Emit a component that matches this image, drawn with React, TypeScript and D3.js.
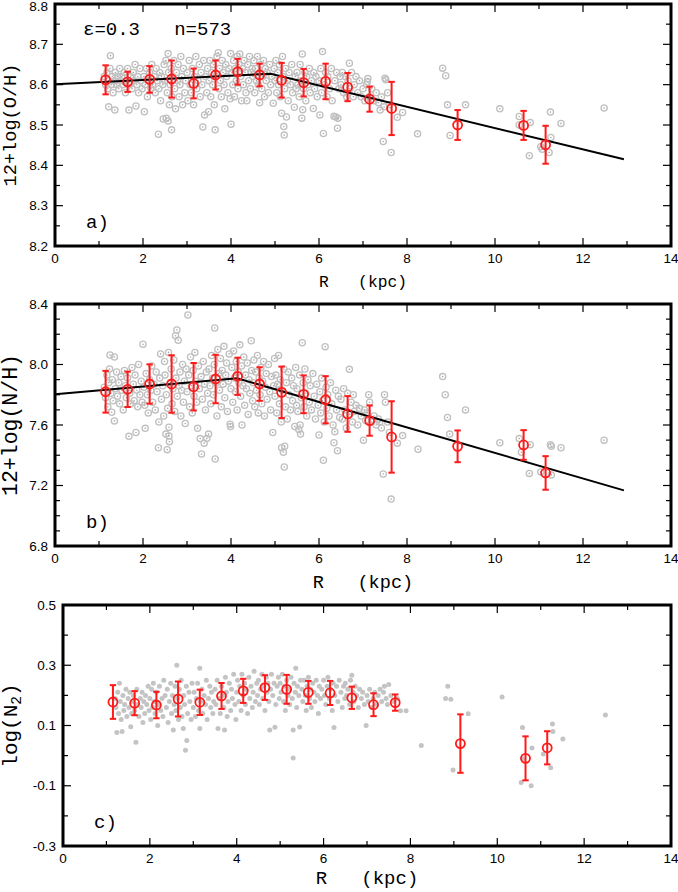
import * as d3 from "d3";
import React from "react";

type Pt = [number, number];

// binned means (red) shared radii
const binRadius = [1.15, 1.65, 2.15, 2.65, 3.15, 3.65, 4.15, 4.65, 5.15, 5.65, 6.15, 6.65, 7.15, 7.65, 9.15, 10.65, 11.15];
const ohMean = [8.612, 8.607, 8.613, 8.614, 8.603, 8.624, 8.632, 8.624, 8.611, 8.605, 8.608, 8.594, 8.564, 8.541, 8.5, 8.499, 8.451];
const ohErr = [0.036, 0.025, 0.033, 0.046, 0.037, 0.036, 0.032, 0.028, 0.043, 0.034, 0.044, 0.035, 0.031, 0.066, 0.037, 0.036, 0.047];
const nhMean = [7.82, 7.836, 7.871, 7.871, 7.853, 7.904, 7.922, 7.871, 7.816, 7.803, 7.767, 7.673, 7.629, 7.521, 7.459, 7.468, 7.283];
const nhErr = [0.138, 0.117, 0.13, 0.19, 0.157, 0.16, 0.123, 0.111, 0.17, 0.125, 0.156, 0.118, 0.1, 0.236, 0.105, 0.098, 0.111];
const n2Mean = [0.178, 0.174, 0.168, 0.188, 0.177, 0.198, 0.215, 0.226, 0.22, 0.21, 0.208, 0.192, 0.169, 0.176, 0.04, -0.009, 0.026];
const n2Err = [0.056, 0.04, 0.044, 0.058, 0.042, 0.043, 0.04, 0.041, 0.048, 0.038, 0.04, 0.037, 0.038, 0.027, 0.097, 0.073, 0.055];

// broken-line gradient fits
const ohFitR = [0, 4.9, 12.93];
const ohFitV = [8.601, 8.627, 8.415];
const nhFitR = [0, 4.14, 12.93];
const nhFitV = [7.803, 7.909, 7.168];

// ticks
const xMajor = [0, 2, 4, 6, 8, 10, 12, 14];
const xMinor = [1, 3, 5, 7, 9, 11, 13];
const ohTicks = [8.2, 8.3, 8.4, 8.5, 8.6, 8.7, 8.8];
const ohMinor = [8.25, 8.35, 8.45, 8.55, 8.65, 8.75];
const nhTicks = [6.8, 7.2, 7.6, 8.0, 8.4];
const nhMinor = [6.9, 7.0, 7.1, 7.3, 7.4, 7.5, 7.7, 7.8, 7.9, 8.1, 8.2, 8.3];
const n2Ticks = [-0.3, -0.1, 0.1, 0.3, 0.5];
const n2Minor = [-0.2, 0, 0.2, 0.4];

// individual HII regions, panel a: (R, 12+log(O/H))
const ohPoints: Pt[] = [
  [1.12,8.62],[1.15,8.6],[1.18,8.63],[1.2,8.59],[1.22,8.61],[1.25,8.64],[1.26,8.672],[1.28,8.6],[1.3,8.62],[1.32,8.58],[1.35,8.61],[1.37,8.63],[1.4,8.6],[1.42,8.62],[1.45,8.59],[1.47,8.64],[1.22,8.545],[1.36,8.537],[1.48,8.61],
  [1.52,8.62],[1.55,8.6],[1.57,8.63],[1.6,8.58],[1.62,8.61],[1.65,8.64],[1.68,8.537],[1.7,8.6],[1.72,8.62],[1.75,8.59],[1.78,8.63],[1.8,8.61],[1.82,8.65],[1.84,8.547],[1.86,8.6],[1.88,8.62],[1.9,8.58],[1.93,8.64],[1.95,8.61],[1.98,8.59],
  [2.02,8.62],[2.03,8.533],[2.05,8.6],[2.08,8.64],[2.1,8.57],[2.12,8.61],[2.15,8.63],[2.18,8.59],[2.2,8.65],[2.22,8.6],[2.25,8.62],[2.28,8.58],[2.3,8.64],[2.32,8.61],[2.35,8.477],[2.36,8.59],[2.38,8.63],[2.4,8.56],[2.42,8.62],[2.45,8.6],[2.46,8.515],[2.48,8.65],
  [2.5,8.61],[2.52,8.66],[2.53,8.517],[2.55,8.58],[2.57,8.677],[2.57,8.51],[2.58,8.63],[2.6,8.55],[2.62,8.6],[2.64,8.64],[2.65,8.488],[2.66,8.57],[2.68,8.62],[2.7,8.66],[2.72,8.59],[2.74,8.54],[2.76,8.63],[2.78,8.61],[2.8,8.65],[2.82,8.57],[2.84,8.6],[2.86,8.67],[2.88,8.62],[2.9,8.55],[2.92,8.64],[2.95,8.58],[2.97,8.61],
  [3.0,8.63],[3.02,8.56],[3.05,8.66],[3.07,8.6],[3.1,8.58],[3.12,8.64],[3.15,8.55],[3.17,8.62],[3.2,8.67],[3.22,8.59],[3.25,8.61],[3.28,8.65],[3.3,8.57],[3.32,8.63],[3.34,8.6],[3.36,8.495],[3.38,8.66],[3.4,8.525],[3.42,8.62],[3.45,8.58],[3.47,8.64],[3.49,8.533],
  [3.5,8.61],[3.52,8.66],[3.54,8.57],[3.56,8.63],[3.58,8.6],[3.6,8.65],[3.62,8.55],[3.64,8.488],[3.66,8.62],[3.68,8.67],[3.71,8.679],[3.72,8.59],[3.74,8.64],[3.76,8.61],[3.78,8.57],[3.8,8.66],[3.82,8.63],[3.84,8.6],[3.86,8.54],[3.88,8.65],[3.9,8.62],[3.93,8.58],[3.95,8.64],[3.98,8.565],[3.99,8.677],[4.0,8.502],
  [4.02,8.63],[4.04,8.6],[4.06,8.66],[4.08,8.57],[4.1,8.64],[4.12,8.61],[4.14,8.67],[4.16,8.59],[4.18,8.65],[4.2,8.676],[4.22,8.62],[4.24,8.56],[4.26,8.64],[4.28,8.6],[4.3,8.66],[4.32,8.63],[4.34,8.58],[4.36,8.56],[4.38,8.65],[4.4,8.61],[4.42,8.67],[4.44,8.59],[4.46,8.63],[4.48,8.64],
  [4.5,8.62],[4.52,8.66],[4.54,8.58],[4.56,8.64],[4.58,8.61],[4.6,8.67],[4.62,8.6],[4.65,8.555],[4.66,8.63],[4.68,8.65],[4.7,8.59],[4.72,8.62],[4.74,8.66],[4.76,8.57],[4.78,8.64],[4.8,8.61],[4.82,8.63],[4.85,8.58],[4.88,8.65],[4.9,8.6],[4.93,8.62],[4.96,8.554],[4.98,8.64],
  [5.0,8.61],[5.02,8.66],[5.04,8.58],[5.06,8.63],[5.08,8.6],[5.1,8.65],[5.12,8.57],[5.15,8.529],[5.17,8.67],[5.18,8.62],[5.2,8.496],[5.21,8.475],[5.22,8.59],[5.24,8.64],[5.26,8.52],[5.28,8.61],[5.3,8.56],[5.32,8.63],[5.35,8.6],[5.38,8.65],[5.4,8.58],[5.44,8.544],[5.46,8.62],[5.48,8.59],
  [5.5,8.63],[5.52,8.6],[5.55,8.57],[5.57,8.65],[5.6,8.61],[5.61,8.517],[5.62,8.676],[5.63,8.538],[5.65,8.59],[5.68,8.63],[5.7,8.56],[5.72,8.62],[5.75,8.6],[5.78,8.64],[5.8,8.58],[5.83,8.61],[5.87,8.541],[5.88,8.63],[5.9,8.59],[5.93,8.62],[5.96,8.57],
  [6.0,8.61],[6.02,8.525],[6.04,8.64],[6.06,8.58],[6.08,8.682],[6.1,8.479],[6.12,8.6],[6.15,8.63],[6.18,8.57],[6.2,8.62],[6.24,8.59],[6.28,8.64],[6.3,8.56],[6.34,8.522],[6.36,8.61],[6.38,8.52],[6.4,8.63],[6.42,8.492],[6.43,8.517],[6.45,8.59],[6.48,8.62],
  [6.5,8.6],[6.53,8.63],[6.56,8.58],[6.6,8.62],[6.63,8.57],[6.66,8.61],[6.69,8.653],[6.7,8.59],[6.74,8.63],[6.78,8.57],[6.8,8.6],[6.84,8.62],[6.88,8.58],[6.92,8.61],[6.96,8.57],
  [7.0,8.59],[7.04,8.56],[7.08,8.6],[7.1,8.607],[7.11,8.615],[7.14,8.57],[7.2,8.59],[7.25,8.56],[7.3,8.58],[7.35,8.555],[7.39,8.537],[7.42,8.57],[7.46,8.459],[7.48,8.545],[7.5,8.616],[7.52,8.612],
  [7.56,8.58],[7.6,8.55],[7.64,8.432],[7.78,8.519],[7.9,8.531],[8.24,8.478],[8.81,8.641],[8.88,8.622],[8.92,8.55],[8.98,8.474],[9.33,8.55],[10.11,8.54],[10.55,8.521],[10.55,8.5],[10.8,8.506],[10.78,8.424],[11.04,8.446],[11.07,8.44],[11.23,8.432],[11.27,8.469],[11.26,8.532],[11.5,8.504],[12.48,8.542],
];

// panel b: (R, 12+log(N/H))
const nhPoints: Pt[] = [
  [1.12,7.85],[1.15,7.78],[1.18,7.93],[1.2,7.72],[1.22,7.88],[1.24,7.97],[1.25,8.063],[1.27,7.81],[1.29,7.684],[1.3,7.9],[1.32,7.76],[1.35,8.05],[1.35,7.627],[1.37,7.84],[1.4,7.95],[1.42,7.79],[1.45,7.88],[1.47,7.74],
  [1.5,7.92],[1.52,7.83],[1.55,7.7],[1.58,7.96],[1.6,7.86],[1.62,7.78],[1.65,7.91],[1.68,7.525],[1.7,7.81],[1.72,7.74],[1.75,7.98],[1.78,7.87],[1.8,7.76],[1.82,7.93],[1.84,7.55],[1.86,7.83],[1.88,7.72],[1.9,8.0],[1.93,7.8],[1.96,7.89],[1.98,7.75],
  [2.0,8.134],[2.02,7.85],[2.04,7.73],[2.05,7.578],[2.07,7.94],[2.1,7.8],[2.12,7.68],[2.15,7.9],[2.18,7.83],[2.2,7.99],[2.22,7.75],[2.25,7.87],[2.28,7.7],[2.3,7.95],[2.32,7.82],[2.35,7.45],[2.36,7.62],[2.38,7.91],[2.4,8.07],[2.42,7.77],[2.45,7.86],[2.47,7.66],[2.49,8.02],
  [2.5,7.93],[2.52,7.54],[2.53,7.8],[2.55,7.437],[2.56,7.71],[2.58,8.08],[2.59,7.585],[2.59,7.528],[2.6,7.49],[2.62,7.88],[2.64,7.97],[2.66,7.74],[2.68,7.84],[2.7,8.03],[2.72,7.69],[2.74,8.19],[2.75,7.91],[2.77,8.228],[2.78,7.79],[2.8,8.16],[2.82,7.86],[2.84,7.95],[2.86,7.66],[2.88,7.83],[2.9,8.0],[2.92,7.75],[2.94,7.89],[2.96,7.61],[2.98,7.97],
  [3.0,7.82],[3.02,8.327],[3.04,7.93],[3.06,7.72],[3.08,8.05],[3.1,7.86],[3.12,7.68],[3.14,7.96],[3.16,7.79],[3.18,8.08],[3.2,7.89],[3.22,7.75],[3.24,7.578],[3.26,7.99],[3.28,7.84],[3.3,7.51],[3.32,7.92],[3.33,7.408],[3.35,7.77],[3.37,8.02],[3.39,7.48],[3.4,7.87],[3.42,7.7],[3.44,7.95],[3.45,7.51],[3.47,7.81],[3.49,7.54],
  [3.5,7.97],[3.52,7.86],[3.54,7.74],[3.56,8.06],[3.58,7.91],[3.6,7.8],[3.62,8.0],[3.63,8.241],[3.64,7.375],[3.66,7.88],[3.68,7.66],[3.7,8.1],[3.72,7.94],[3.74,7.83],[3.76,8.04],[3.78,7.72],[3.8,7.96],[3.82,7.87],[3.84,8.12],[3.86,7.78],[3.88,7.93],[3.9,8.01],[3.92,7.69],[3.94,7.89],[3.96,8.07],[3.98,7.605],[3.99,7.59],
  [4.0,7.84],[4.02,7.98],[4.04,7.75],[4.06,8.09],[4.08,7.91],[4.1,7.82],[4.12,8.02],[4.14,7.7],[4.16,7.95],[4.18,7.88],[4.2,8.13],[4.22,7.79],[4.24,7.99],[4.25,7.6],[4.27,7.86],[4.29,8.05],[4.31,7.73],[4.33,7.93],[4.35,7.84],[4.37,8.01],[4.39,7.67],[4.41,7.9],[4.43,7.81],[4.46,8.157],[4.47,7.96],[4.49,7.76],
  [4.5,7.88],[4.52,8.03],[4.54,7.72],[4.56,7.95],[4.58,7.83],[4.6,8.06],[4.62,7.68],[4.64,7.91],[4.66,7.8],[4.68,7.98],[4.7,7.74],[4.72,7.89],[4.74,8.02],[4.76,7.66],[4.78,7.85],[4.8,7.94],[4.82,7.77],[4.85,8.0],[4.88,7.82],[4.9,7.7],[4.92,7.92],[4.95,7.55],[4.97,7.86],[4.99,8.04],
  [5.0,7.79],[5.02,7.93],[5.04,7.68],[5.06,7.87],[5.08,8.06],[5.1,7.74],[5.12,7.9],[5.14,7.62],[5.15,7.45],[5.17,7.83],[5.19,7.42],[5.2,7.97],[5.21,7.322],[5.22,7.46],[5.24,7.72],[5.26,7.88],[5.28,7.64],[5.3,7.95],[5.32,7.8],[5.35,7.7],[5.38,7.91],[5.4,7.76],[5.42,7.86],[5.45,7.59],[5.47,7.98],[5.49,7.73],
  [5.5,7.84],[5.52,7.69],[5.54,7.57],[5.56,7.93],[5.57,7.6],[5.58,7.54],[5.6,7.78],[5.62,8.144],[5.64,7.88],[5.66,7.72],[5.68,7.97],[5.7,7.81],[5.72,7.66],[5.75,7.9],[5.78,7.75],[5.8,7.86],[5.83,7.7],[5.86,7.94],[5.89,7.79],[5.92,7.64],[5.95,7.87],[5.98,7.73],
  [6.0,7.534],[6.02,7.82],[6.04,7.68],[6.06,7.91],[6.08,7.76],[6.1,7.367],[6.12,7.62],[6.14,8.118],[6.16,7.85],[6.18,7.71],[6.2,7.8],[6.23,7.66],[6.26,7.88],[6.29,7.74],[6.32,7.6],[6.34,7.483],[6.36,7.556],[6.38,7.83],[6.4,7.7],[6.42,7.43],[6.44,7.79],[6.47,7.65],
  [6.5,7.77],[6.53,7.64],[6.56,7.84],[6.59,7.7],[6.62,7.58],[6.65,7.81],[6.69,7.968],[6.7,7.67],[6.73,7.75],[6.76,7.62],[6.78,7.8],[6.8,7.69],[6.84,7.73],[6.88,7.6],[6.92,7.71],[6.96,7.66],
  [7.01,7.5],[7.03,7.7],[7.06,7.63],[7.1,7.68],[7.13,7.8],[7.15,7.75],[7.2,7.62],[7.25,7.66],[7.3,7.6],[7.35,7.64],[7.38,7.62],[7.42,7.58],[7.46,7.276],[7.49,7.8],[7.51,7.75],
  [7.56,7.62],[7.6,7.55],[7.64,7.11],[7.78,7.48],[7.9,7.53],[8.25,7.44],[8.81,7.92],[8.87,7.8],[8.92,7.65],[8.97,7.54],[9.33,7.7],[10.11,7.483],[10.55,7.51],[10.6,7.42],[10.8,7.47],[10.78,7.28],[11.04,7.29],[11.26,7.47],[11.28,7.46],[11.28,7.27],[11.5,7.45],[12.48,7.5],
];

// panel c: (R, log N2)
const n2Points: Pt[] = [
  [1.2,0.19],[1.22,0.16],[1.24,0.077],[1.26,0.21],[1.28,0.14],[1.3,0.24],[1.32,0.18],[1.34,0.12],[1.36,0.08],[1.38,0.2],[1.4,0.15],[1.42,0.17],[1.45,0.22],[1.47,0.13],
  [1.5,0.19],[1.52,0.16],[1.54,0.21],[1.56,0.096],[1.58,0.14],[1.6,0.18],[1.62,0.2],[1.65,0.15],[1.68,0.044],[1.7,0.22],[1.72,0.17],[1.75,0.13],[1.78,0.19],[1.8,0.16],[1.82,0.21],[1.84,0.11],[1.86,0.18],[1.88,0.14],[1.9,0.2],[1.93,0.17],[1.96,0.23],[1.98,0.15],
  [2.0,0.19],[2.02,0.12],[2.04,0.22],[2.06,0.16],[2.08,0.24],[2.1,0.18],[2.12,0.14],[2.15,0.21],[2.18,0.1],[2.2,0.17],[2.22,0.23],[2.25,0.15],[2.28,0.19],[2.3,0.13],[2.32,0.25],[2.35,0.2],[2.38,0.16],[2.4,0.22],[2.42,0.11],[2.45,0.18],[2.48,0.24],
  [2.5,0.14],[2.52,0.2],[2.54,0.085],[2.56,0.17],[2.58,0.23],[2.6,0.15],[2.62,0.3],[2.64,0.19],[2.66,0.12],[2.68,0.22],[2.7,0.16],[2.72,0.25],[2.74,0.13],[2.77,0.09],[2.78,0.2],[2.8,0.17],[2.82,0.018],[2.84,0.23],[2.85,0.05],[2.87,0.14],[2.9,0.21],[2.92,0.18],[2.95,0.12],[2.97,0.24],
  [3.0,0.16],[3.02,0.21],[3.05,0.13],[3.07,0.19],[3.1,0.24],[3.12,0.15],[3.15,0.29],[3.15,0.09],[3.17,0.18],[3.2,0.22],[3.22,0.14],[3.25,0.2],[3.28,0.17],[3.3,0.25],[3.32,0.12],[3.35,0.19],[3.38,0.23],[3.4,0.16],[3.42,0.21],[3.45,0.14],[3.47,0.18],
  [3.5,0.22],[3.52,0.17],[3.55,0.25],[3.57,0.09],[3.6,0.19],[3.62,0.14],[3.65,0.23],[3.68,0.2],[3.7,0.16],[3.72,0.085],[3.74,0.26],[3.76,0.21],[3.78,0.13],[3.8,0.18],[3.83,0.24],[3.86,0.15],[3.88,0.22],[3.9,0.19],[3.93,0.27],[3.96,0.17],[3.98,0.12],
  [4.0,0.21],[4.02,0.25],[4.05,0.18],[4.07,0.23],[4.1,0.15],[4.12,0.27],[4.15,0.2],[4.18,0.24],[4.2,0.17],[4.22,0.22],[4.25,0.14],[4.28,0.26],[4.3,0.19],[4.33,0.23],[4.36,0.16],[4.38,0.21],[4.4,0.28],[4.43,0.18],[4.46,0.24],[4.48,0.2],
  [4.5,0.25],[4.52,0.17],[4.55,0.22],[4.58,0.27],[4.6,0.19],[4.62,0.23],[4.65,0.15],[4.68,0.26],[4.7,0.21],[4.72,0.24],[4.74,0.18],[4.76,0.085],[4.78,0.22],[4.8,0.27],[4.83,0.2],[4.86,0.24],[4.88,0.094],[4.9,0.17],[4.93,0.23],[4.96,0.26],[4.98,0.19],
  [5.0,0.24],[5.02,0.21],[5.05,0.27],[5.08,0.18],[5.1,0.23],[5.12,0.15],[5.15,0.25],[5.18,0.2],[5.2,0.22],[5.22,0.17],[5.25,0.26],[5.28,0.19],[5.3,-0.008],[5.3,0.085],[5.32,0.24],[5.35,0.21],[5.36,0.29],[5.38,0.16],[5.4,0.23],[5.43,0.2],[5.45,0.095],[5.47,0.25],
  [5.5,0.22],[5.52,0.18],[5.55,0.25],[5.58,0.2],[5.6,0.15],[5.62,0.23],[5.65,0.26],[5.68,0.19],[5.7,0.22],[5.72,0.16],[5.75,0.24],[5.78,0.21],[5.8,0.18],[5.83,0.25],[5.86,0.2],[5.88,0.14],[5.9,0.23],[5.93,0.19],[5.96,0.22],
  [6.0,0.25],[6.02,0.2],[6.05,0.17],[6.08,0.23],[6.1,0.26],[6.13,0.19],[6.16,0.22],[6.2,0.15],[6.22,0.24],[6.24,0.093],[6.26,0.2],[6.3,0.23],[6.33,0.18],[6.36,0.25],[6.4,0.21],[6.43,0.16],[6.46,0.23],[6.49,0.19],
  [6.5,0.24],[6.53,0.2],[6.56,0.22],[6.6,0.17],[6.62,0.25],[6.65,0.267],[6.68,0.21],[6.7,0.18],[6.73,0.23],[6.76,0.2],[6.8,0.16],[6.83,0.22],[6.87,0.19],[6.9,0.21],[6.94,0.17],[6.98,0.1],
  [7.0,0.2],[7.03,0.18],[7.06,0.22],[7.1,0.16],[7.14,0.19],[7.18,0.21],[7.22,0.17],[7.26,0.2],[7.3,0.22],[7.34,0.18],[7.38,0.21],[7.4,0.23],[7.44,0.19],[7.47,0.17],[7.5,0.236],
  [7.55,0.2],[7.62,0.18],[7.7,0.19],[7.77,0.149],[7.9,0.149],[8.25,0.034],[8.81,0.19],[8.86,0.23],[8.93,0.187],[8.98,-0.048],[9.33,0.139],[10.11,0.195],[10.58,0.093],[10.58,-0.01],[10.8,0.025],[10.55,-0.089],[10.78,-0.1],[11.06,0.005],[11.23,-0.04],[11.27,0.105],[11.28,0.08],[11.51,0.055],[12.49,0.135],
];

const MONO = "'Liberation Mono', 'DejaVu Sans Mono', monospace";
const SANS = "'Liberation Sans', Arial, sans-serif";
const RED = "#ff1a1a";

type Box = { l: number; r: number; t: number; b: number };

function Panel(props: {
  box: Box;
  yDomain: [number, number];
  yTicks: number[];
  yMinor: number[];
  points: Pt[];
  rings: boolean;
  mean: number[];
  err: number[];
  fitR?: number[];
  fitV?: number[];
  yTitle: React.ReactNode;
  yTitleSize: number;
  yTitleX: number;
  tag: string;
  tagX: number;
  tagY: number;
  xTitleSize: number;
  xTitleY: number;
  children?: React.ReactNode;
}) {
  const { box } = props;
  const x = d3.scaleLinear().domain([0, 14]).range([box.l, box.r]);
  const y = d3.scaleLinear().domain(props.yDomain).range([box.b, box.t]);
  const fitLine = d3
    .line<number>()
    .x((_, i) => x(props.fitR![i]))
    .y((d) => y(d));
  const major = 8;
  const minor = 5;
  const cx = (box.l + box.r) / 2;
  const cy = (box.t + box.b) / 2;

  return (
    <g>
      {/* scatter of individual regions */}
      <g>
        {props.points.map((p, i) =>
          props.rings ? (
            <g key={i}>
              <circle cx={x(p[0])} cy={y(p[1])} r={3.1} fill="none" stroke="#c0c0c0" strokeWidth={1.3} />
              <circle cx={x(p[0])} cy={y(p[1])} r={0.8} fill="#a8a8a8" />
            </g>
          ) : (
            <circle key={i} cx={x(p[0])} cy={y(p[1])} r={2.5} fill="#c4c4c4" />
          )
        )}
      </g>

      {props.fitR && props.fitV && (
        <path d={fitLine(props.fitV) || ""} fill="none" stroke="#000" strokeWidth={2} />
      )}

      {/* binned means with error bars */}
      <g stroke={RED} fill="none">
        {binRadius.map((r, i) => {
          const px = x(r);
          const y0 = y(props.mean[i] - props.err[i]);
          const y1 = y(props.mean[i] + props.err[i]);
          return (
            <g key={i}>
              <line x1={px} x2={px} y1={y0} y2={y1} strokeWidth={2} />
              <line x1={px - 3.2} x2={px + 3.2} y1={y0} y2={y0} strokeWidth={2} />
              <line x1={px - 3.2} x2={px + 3.2} y1={y1} y2={y1} strokeWidth={2} />
              <circle cx={px} cy={y(props.mean[i])} r={4.5} strokeWidth={1.8} />
            </g>
          );
        })}
      </g>

      {/* ticks, pointing inward on all four sides */}
      <g stroke="#000" strokeWidth={1.2}>
        {xMajor.map((v) => (
          <g key={"xM" + v}>
            <line x1={x(v)} x2={x(v)} y1={box.b} y2={box.b - major} />
            <line x1={x(v)} x2={x(v)} y1={box.t} y2={box.t + major} />
          </g>
        ))}
        {xMinor.map((v) => (
          <g key={"xm" + v}>
            <line x1={x(v)} x2={x(v)} y1={box.b} y2={box.b - minor} />
            <line x1={x(v)} x2={x(v)} y1={box.t} y2={box.t + minor} />
          </g>
        ))}
        {props.yTicks.map((v) => (
          <g key={"yM" + v}>
            <line x1={box.l} x2={box.l + major} y1={y(v)} y2={y(v)} />
            <line x1={box.r} x2={box.r - major} y1={y(v)} y2={y(v)} />
          </g>
        ))}
        {props.yMinor.map((v) => (
          <g key={"ym" + v}>
            <line x1={box.l} x2={box.l + minor} y1={y(v)} y2={y(v)} />
            <line x1={box.r} x2={box.r - minor} y1={y(v)} y2={y(v)} />
          </g>
        ))}
      </g>

      <rect x={box.l} y={box.t} width={box.r - box.l} height={box.b - box.t} fill="none" stroke="#000" strokeWidth={3} />

      {/* tick labels */}
      <g fontFamily={SANS} fontSize={13.5} fill="#000">
        {xMajor.map((v) => (
          <text key={"xl" + v} x={x(v)} y={box.b + 17} textAnchor="middle">
            {v}
          </text>
        ))}
        {props.yTicks.map((v) => (
          <text key={"yl" + v} x={box.l - 7} y={Math.max(y(v), 6)} dy="0.35em" textAnchor="end">
            {v.toFixed(1)}
          </text>
        ))}
      </g>

      {/* axis titles */}
      <text
        x={cx}
        y={props.xTitleY}
        textAnchor="middle"
        fontFamily={MONO}
        fontSize={props.xTitleSize}
        style={{ whiteSpace: "pre" }}
      >
        {"R   (kpc)"}
      </text>
      <text
        transform={`translate(${props.yTitleX},${cy}) rotate(-90)`}
        textAnchor="middle"
        fontFamily={MONO}
        fontSize={props.yTitleSize}
      >
        {props.yTitle}
      </text>
      <text x={props.tagX} y={props.tagY} fontFamily={MONO} fontSize={19}>
        {props.tag}
      </text>
      {props.children}
    </g>
  );
}

export default function App() {
  return (
    <svg
      width={678}
      height={892}
      viewBox="0 0 678 892"
      style={{ position: "absolute", left: 0, top: 0, background: "#fff" }}
    >
      <Panel
        box={{ l: 55, r: 671, t: 4, b: 246 }}
        yDomain={[8.2, 8.8]}
        yTicks={ohTicks}
        yMinor={ohMinor}
        points={ohPoints}
        rings={true}
        mean={ohMean}
        err={ohErr}
        fitR={ohFitR}
        fitV={ohFitV}
        yTitle="12+log(O/H)"
        yTitleSize={18.6}
        yTitleX={16}
        tag="a)"
        tagX={86}
        tagY={228}
        xTitleSize={16.3}
        xTitleY={287}
      >
        <text x={83} y={35} fontFamily={MONO} fontSize={19} style={{ whiteSpace: "pre" }}>
          {"ε=0.3   n=573"}
        </text>
      </Panel>
      <Panel
        box={{ l: 55, r: 671, t: 304, b: 546 }}
        yDomain={[6.8, 8.4]}
        yTicks={nhTicks}
        yMinor={nhMinor}
        points={nhPoints}
        rings={true}
        mean={nhMean}
        err={nhErr}
        fitR={nhFitR}
        fitV={nhFitV}
        yTitle="12+log(N/H)"
        yTitleSize={21.5}
        yTitleX={17}
        tag="b)"
        tagX={86}
        tagY={528}
        xTitleSize={18.6}
        xTitleY={588}
      />
      <Panel
        box={{ l: 63, r: 671, t: 605, b: 846 }}
        yDomain={[-0.3, 0.5]}
        yTicks={n2Ticks}
        yMinor={n2Minor}
        points={n2Points}
        rings={false}
        mean={n2Mean}
        err={n2Err}
        yTitle={
          <>
            log(N
            <tspan fontSize="0.7em" dy={4}>
              2
            </tspan>
            <tspan dy={-4}>)</tspan>
          </>
        }
        yTitleSize={21}
        yTitleX={17}
        tag="c)"
        tagX={94}
        tagY={828}
        xTitleSize={19}
        xTitleY={884}
      />
    </svg>
  );
}
